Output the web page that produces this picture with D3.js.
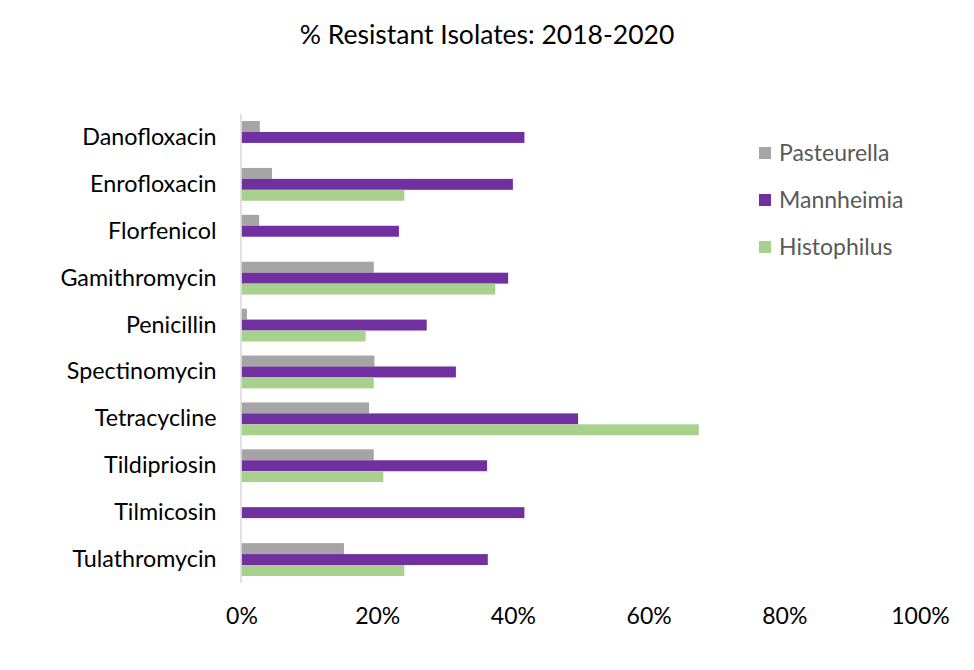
<!DOCTYPE html>
<html><head><meta charset="utf-8">
<script src="https://cdn.jsdelivr.net/npm/d3@7"></script>
<style>body{margin:0;background:#fff}svg{display:block}text{font-family:Lato,"Open Sans",sans-serif}</style>
</head><body>
<svg id="chart" width="974" height="670"></svg>
<script>
const categories = ["Danofloxacin","Enrofloxacin","Florfenicol","Gamithromycin","Penicillin","Spectinomycin","Tetracycline","Tildipriosin","Tilmicosin","Tulathromycin"];
const seriesNames = ["Pasteurella","Mannheimia","Histophilus"];
const pasteurella = [2.7, 4.5, 2.6, 19.5, 0.8, 19.6, 18.8, 19.5, 0, 15.1];
const mannheimia  = [41.7, 40.0, 23.2, 39.3, 27.3, 31.6, 49.6, 36.2, 41.7, 36.3];
const histophilus = [0, 24.0, 0, 37.4, 18.3, 19.5, 67.4, 20.9, 0, 24.0];
const tickValues = [0, 20, 40, 60, 80, 100];
const colors = ["#A5A5A5", "#7030A0", "#A9D18E"];

const seriesData = [pasteurella, mannheimia, histophilus];
const svg = d3.select("#chart");
const plot = {left: 241.5, right: 920, top: 114, bottom: 583};

const x = d3.scaleLinear().domain([0, 100]).range([plot.left, plot.right]);
const y = d3.scaleBand().domain(categories).range([plot.top, plot.bottom]).paddingInner(0.3).paddingOuter(0.15);
const ys = d3.scaleBand().domain(seriesNames).range([0, y.bandwidth()]);
const color = d3.scaleOrdinal().domain(seriesNames).range(colors);

// title
svg.append("text").attr("x", 487).attr("y", 44).attr("text-anchor", "middle")
  .attr("font-size", 26.5).attr("fill", "#000").text("% Resistant Isolates: 2018-2020");

// bars
const groups = svg.append("g").selectAll("g").data(categories).join("g")
  .attr("transform", d => `translate(0,${y(d)})`);
groups.selectAll("rect").data((c, i) => seriesNames.map((s, j) => ({s, v: seriesData[j][i]})))
  .join("rect")
  .attr("x", x(0))
  .attr("y", d => ys(d.s))
  .attr("width", d => Math.max(0, x(d.v) - x(0)))
  .attr("height", ys.bandwidth())
  .attr("fill", d => color(d.s));

// y axis line
svg.append("line").attr("x1", plot.left - 0.5).attr("x2", plot.left - 0.5)
  .attr("y1", plot.top).attr("y2", plot.bottom)
  .attr("stroke", "#D9D9D9").attr("stroke-width", 1.5);

// category labels
const yAxis = d3.axisLeft(y).tickSize(0).tickPadding(25);
const ya = svg.append("g").attr("transform", `translate(${plot.left},0)`).call(yAxis);
ya.select(".domain").remove();
ya.selectAll("text").attr("font-size", 23.3).attr("font-family", "Lato").attr("fill", "#000");

// x tick labels
const xAxis = d3.axisBottom(x).tickValues(tickValues).tickFormat(d => d + "%").tickSize(0).tickPadding(0);
const xa = svg.append("g").attr("transform", `translate(0,608)`).call(xAxis);
xa.select(".domain").remove();
xa.selectAll("text").attr("font-size", 23).attr("font-family", "Lato").attr("fill", "#000");

// legend
const leg = svg.append("g").selectAll("g").data(seriesNames).join("g")
  .attr("transform", (d, i) => `translate(759,${147 + i * 47})`);
leg.append("rect").attr("width", 12).attr("height", 12).attr("fill", d => color(d));
leg.append("text").attr("x", 20).attr("y", 14).attr("font-size", 23)
  .attr("fill", "#595959").text(d => d);
</script>
</body></html>
